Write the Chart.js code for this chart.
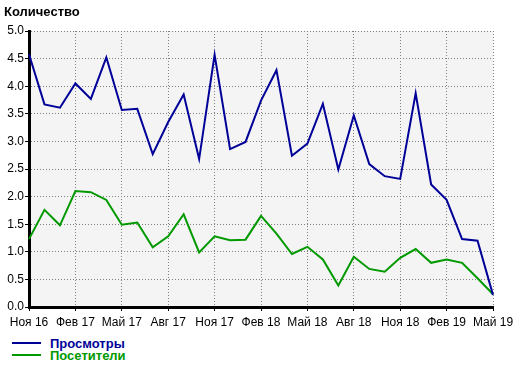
<!DOCTYPE html>
<html>
<head>
<meta charset="utf-8">
<script src="https://cdn.jsdelivr.net/npm/chart.js@4"></script>
<style>
  body { margin: 0; background: #fff; font-family: "Liberation Sans", Arial, sans-serif; }
  #wrap { position: relative; width: 521px; height: 365px; }
  #title { position: absolute; left: 4px; top: 4px; font-size: 13px; font-weight: bold; color: #000; }
  #legend { position: absolute; left: 12px; top: 337px; font-size: 13px; font-weight: bold; }
  .row { display: flex; align-items: center; height: 12px; }
  .swatch { width: 29px; height: 2px; margin-right: 9px; }
  canvas { position: absolute; left: 0; top: 0; }
</style>
</head>
<body>
<div id="wrap">
  <canvas id="chart" width="521" height="334"></canvas>
  <div id="title">Количество</div>
  <div id="legend"></div>
</div>
<script>
// months Nov 2016 .. May 2019
const months = [
  'Ноя 16', 'Дек 16', 'Янв 17', 'Фев 17', 'Мар 17', 'Апр 17', 'Май 17', 'Июн 17', 'Июл 17', 'Авг 17',
  'Сен 17', 'Окт 17', 'Ноя 17', 'Дек 17', 'Янв 18', 'Фев 18', 'Мар 18', 'Апр 18', 'Май 18', 'Июн 18',
  'Июл 18', 'Авг 18', 'Сен 18', 'Окт 18', 'Ноя 18', 'Дек 18', 'Янв 19', 'Фев 19', 'Мар 19', 'Апр 19', 'Май 19'
];
const views = [
  4.58, 3.67, 3.61, 4.05, 3.77, 4.52, 3.57, 3.59, 2.77, 3.35,
  3.85, 2.68, 4.57, 2.86, 2.99, 3.74, 4.29, 2.74, 2.96, 3.68,
  2.49, 3.47, 2.59, 2.37, 2.32, 3.87, 2.22, 1.94, 1.23, 1.20, 0.22
];
const visitors = [
  1.23, 1.76, 1.48, 2.10, 2.08, 1.94, 1.49, 1.53, 1.08, 1.28,
  1.68, 0.99, 1.28, 1.21, 1.22, 1.65, 1.33, 0.96, 1.09, 0.86,
  0.39, 0.91, 0.69, 0.64, 0.89, 1.05, 0.80, 0.86, 0.80, 0.52, 0.23
];
const seriesNames = ['Просмотры', 'Посетители'];
const seriesColors = ['#000099', '#009900'];

const gridColor = '#808080';
const font = { family: '"Liberation Sans", Arial, sans-serif', size: 12 };

// grey plot background
const plotBg = {
  id: 'plotBg',
  beforeDraw(chart) {
    const a = chart.chartArea;
    const ctx = chart.ctx;
    ctx.save();
    ctx.fillStyle = '#f4f4f4';
    ctx.fillRect(a.left, a.top, a.right - a.left, a.bottom - a.top);
    ctx.restore();
  }
};

const chart = new Chart(document.getElementById('chart'), {
  type: 'line',
  data: {
    labels: months,
    datasets: [
      { label: seriesNames[0], data: views, borderColor: seriesColors[0], borderWidth: 2, pointRadius: 0, tension: 0, fill: false },
      { label: seriesNames[1], data: visitors, borderColor: seriesColors[1], borderWidth: 2, pointRadius: 0, tension: 0, fill: false }
    ]
  },
  options: {
    responsive: false,
    animation: false,
    layout: { padding: { left: 0, right: 28, top: 31, bottom: 0 } },
    plugins: {
      legend: { display: false },
      tooltip: { enabled: false }
    },
    scales: {
      x: {
        offset: false,
        ticks: {
          autoSkip: false,
          maxRotation: 0,
          color: '#000',
          font: font,
          padding: 4,
          callback: (v, i) => (i % 3 === 0 ? months[i] : '')
        },
        grid: {
          color: c => (c.index % 3 === 0 ? gridColor : 'rgba(0,0,0,0)'),
          tickColor: c => (c.index % 3 === 0 ? '#000' : 'rgba(0,0,0,0)'),
          tickLength: 4,
          lineWidth: 1
        },
        border: { display: true, color: '#000', width: 3, dash: [1, 2] },
        afterFit: s => { s.height = 27; }
      },
      y: {
        min: 0,
        max: 5,
        ticks: {
          stepSize: 0.5,
          color: '#000',
          font: font,
          padding: 1,
          callback: v => v.toFixed(1)
        },
        grid: {
          color: gridColor,
          tickColor: '#000',
          tickLength: 4,
          lineWidth: 1
        },
        border: { display: true, color: '#000', width: 3, dash: [1, 2] },
        afterFit: s => { s.width = 29; }
      }
    }
  },
  plugins: [plotBg]
});

// legend as html below the chart
const legend = document.getElementById('legend');
seriesNames.forEach((name, i) => {
  const row = document.createElement('div');
  row.className = 'row';
  row.innerHTML = '<span class="swatch" style="background:' + seriesColors[i] + '"></span>' +
    '<span style="color:' + seriesColors[i] + '">' + name + '</span>';
  legend.appendChild(row);
});
</script>
</body>
</html>
